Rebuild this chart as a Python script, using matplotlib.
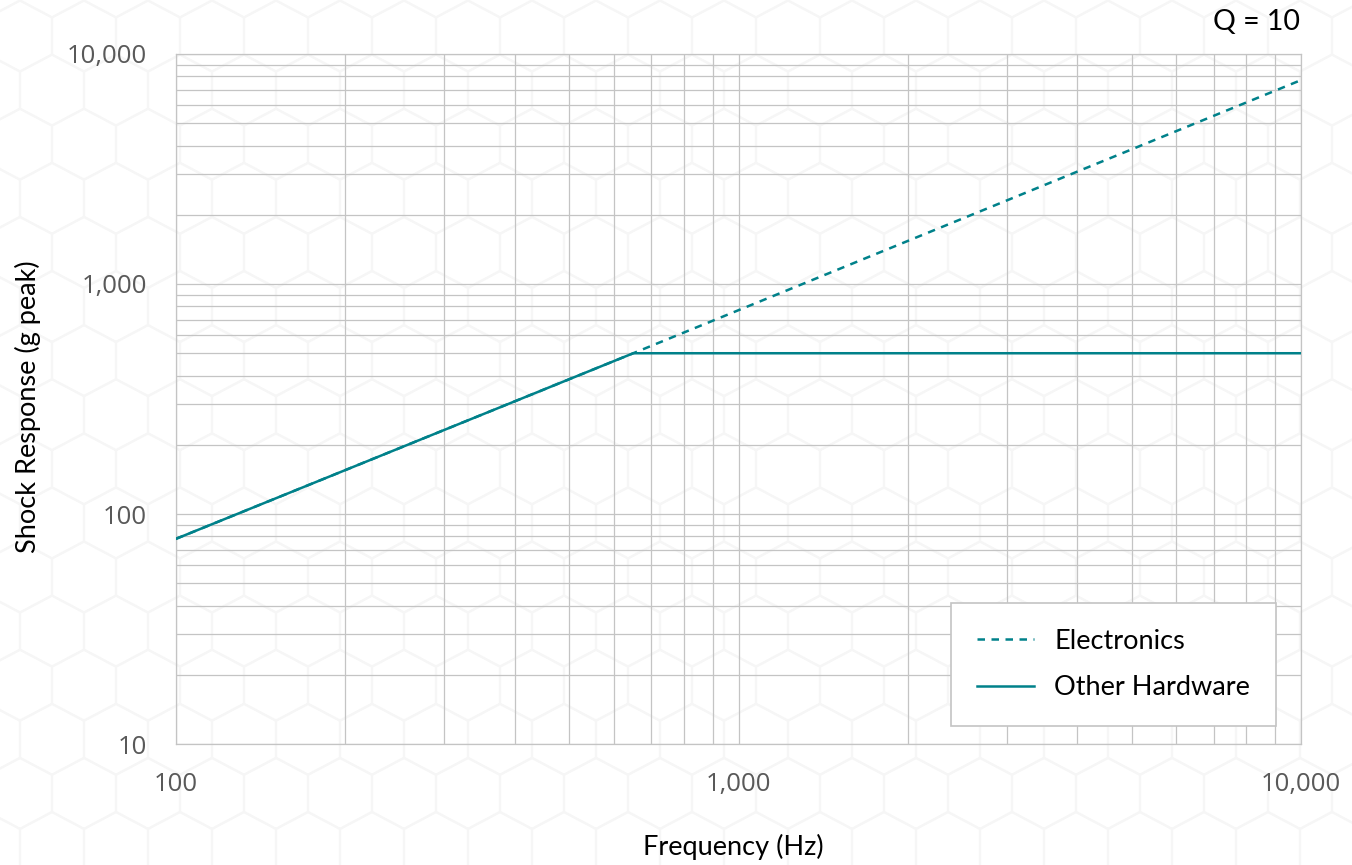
import numpy as np
import matplotlib
matplotlib.use("Agg")
import matplotlib.pyplot as plt
from matplotlib.lines import Line2D
from matplotlib.ticker import FixedLocator, LogLocator, NullFormatter

# values
freq = [100, 650, 10000]
electronics = [78, 500, 7700]
other_hardware = [78, 500, 500]

x_ticks = [100, 1000, 10000]
x_labels = ["100", "1,000", "10,000"]
y_ticks = [10, 100, 1000, 10000]
y_labels = ["10", "100", "1,000", "10,000"]

teal = "#00818A"
grid_col = "#C4C4C4"
W, H = 1352, 865

fig = plt.figure(figsize=(W / 100, H / 100), dpi=100)

# faint hexagon background (pixel coords, origin top-left)
hex_w, hex_a, hex_b, row_h = 64, 35.5, 18.6, 54.1
for r in range(-1, 18):
    cy = 36 + r * row_h
    off = 20 + (32 if r % 2 else 0)
    for k in range(-1, 23):
        cx = off + k * hex_w
        xs = [cx, cx + hex_w / 2, cx + hex_w / 2, cx, cx - hex_w / 2, cx - hex_w / 2, cx]
        ys = [cy - hex_a, cy - hex_b, cy + hex_b, cy + hex_a, cy + hex_b, cy - hex_b, cy - hex_a]
        fig.add_artist(Line2D(np.array(xs) / W, 1 - np.array(ys) / H,
                              transform=fig.transFigure, color="#F6F6F6",
                              lw=1.5, zorder=-10))

ax = fig.add_axes([176 / W, 1 - 744 / H, (1301 - 176) / W, (744 - 54) / H])
ax.set_facecolor("none")
ax.set_xscale("log")
ax.set_yscale("log")
ax.set_xlim(100, 10000)
ax.set_ylim(10, 10000)

ax.plot(freq, electronics, color=teal, lw=1.8, linestyle=(0, (3.0, 2.6)),
        label="Electronics", zorder=3)
ax.plot(freq, other_hardware, color=teal, lw=1.8, label="Other Hardware", zorder=4)

ax.xaxis.set_major_locator(FixedLocator(x_ticks))
ax.yaxis.set_major_locator(FixedLocator(y_ticks))
ax.set_xticklabels(x_labels)
ax.set_yticklabels(y_labels)
ax.xaxis.set_minor_locator(LogLocator(base=10, subs=np.arange(2, 10)))
ax.yaxis.set_minor_locator(LogLocator(base=10, subs=np.arange(2, 10)))
ax.xaxis.set_minor_formatter(NullFormatter())
ax.yaxis.set_minor_formatter(NullFormatter())
ax.grid(True, which="both", color=grid_col, lw=0.9)
ax.set_axisbelow(True)
ax.tick_params(which="both", length=0)
ax.tick_params(axis="x", pad=20, labelsize=18.5, labelcolor="#595959")
ax.tick_params(axis="y", pad=21, labelsize=18.5, labelcolor="#595959")
for lab in ax.get_xticklabels() + ax.get_yticklabels():
    lab.set_family("Open Sans")
for s in ax.spines.values():
    s.set_color(grid_col)
    s.set_linewidth(0.9)

fig.text(733 / W, 1 - 847 / H, "Frequency (Hz)", family="Lato", fontsize=19.5,
         ha="center", va="center")
fig.text(28 / W, 1 - 407 / H, "Shock Response (g peak)", family="Lato", fontsize=19.5,
         ha="center", va="center", rotation=90)
fig.text(1300 / W, 1 - 22 / H, "Q = 10", family="Lato", fontsize=20.5,
         ha="right", va="center")

leg = ax.legend(loc="lower right",
                bbox_to_anchor=((1276 - 176) / (1301 - 176), (744 - 726) / (744 - 54)),
                prop={"family": "Lato", "size": 19.5}, frameon=True, fancybox=False,
                edgecolor=grid_col, handlelength=2.1, handletextpad=0.75,
                borderpad=0.95, labelspacing=0.8, borderaxespad=0)
leg.get_frame().set_linewidth(1.2)
leg.get_frame().set_facecolor("white")
leg.get_frame().set_alpha(1)

fig.savefig("out.png", dpi=100)
